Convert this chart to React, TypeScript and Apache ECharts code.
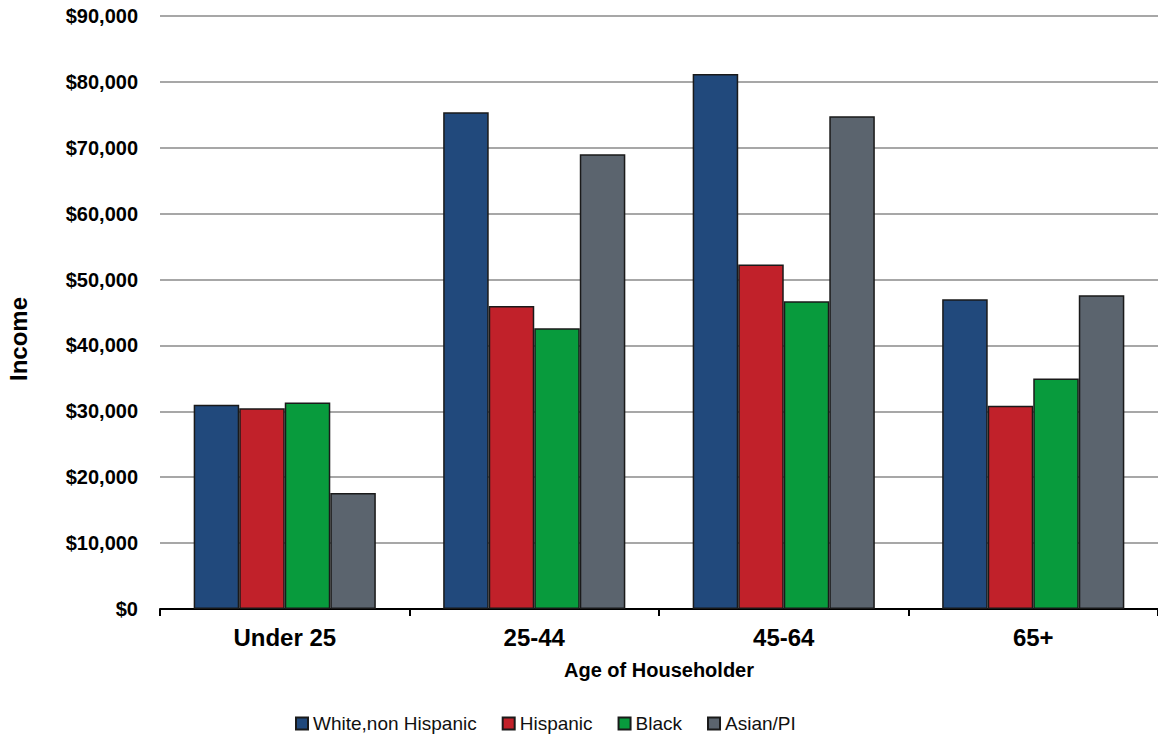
import React, { useEffect, useRef } from "react";
import * as echarts from "echarts";

const categories = ["Under 25", "25-44", "45-64", "65+"];
const whiteNonHispanic = [31000, 75400, 81200, 47000];
const hispanic = [30450, 46000, 52300, 30850];
const black = [31350, 42600, 46700, 35000];
const asianPI = [17600, 69000, 74800, 47600];
const seriesNames = ["White,non Hispanic", "Hispanic", "Black", "Asian/PI"];
const colors = ["#21497c", "#c1212a", "#089b3d", "#5b646e"];

export default function App() {
  const ref = useRef<HTMLDivElement>(null);
  useEffect(() => {
    if (!ref.current) return;
    const chart = echarts.init(ref.current, undefined, { renderer: "svg" });
    const datasets = [whiteNonHispanic, hispanic, black, asianPI];
    chart.setOption({
      animation: false,
      backgroundColor: "#ffffff",
      textStyle: { fontFamily: "Liberation Sans, Arial, sans-serif" },
      grid: { left: 160, right: 0, top: 16, bottom: 135, containLabel: false },
      legend: {
        left: 290,
        top: 709,
        itemWidth: 12,
        itemHeight: 12,
        itemGap: 25,
        icon: "rect",
        textStyle: { fontSize: 19, color: "#111", fontFamily: "Liberation Sans, Arial, sans-serif" },
        data: seriesNames,
      },
      xAxis: {
        type: "category",
        data: categories,
        name: "Age of Householder",
        nameLocation: "middle",
        nameGap: 51,
        nameTextStyle: { fontSize: 20, fontWeight: "bold", color: "#000", fontFamily: "Liberation Sans, Arial, sans-serif" },
        axisLine: { show: true, lineStyle: { color: "#000", width: 2 } },
        axisTick: { show: true, length: 7, lineStyle: { color: "#000", width: 2 } },
        axisLabel: { fontSize: 24, fontWeight: "bold", color: "#000", margin: 16 },
      },
      yAxis: {
        type: "value",
        min: 0,
        max: 90000,
        interval: 10000,
        axisLine: { show: false },
        axisTick: { show: false },
        axisLabel: {
          fontSize: 20,
          fontWeight: "bold",
          color: "#000",
          margin: 22,
          formatter: (v: number) => "$" + v.toLocaleString("en-US"),
        },
        splitLine: { show: true, lineStyle: { color: "#8a8a8a", width: 1.5 } },
      },
      graphic: [
        {
          type: "text",
          x: 18,
          y: 339,
          rotation: Math.PI / 2,
          style: {
            text: "Income",
            fontSize: 24,
            fontWeight: "bold",
            fill: "#000",
            fontFamily: "Liberation Sans, Arial, sans-serif",
            align: "center",
            verticalAlign: "middle",
          },
        },
      ],
      series: datasets.map((d, i) => ({
        type: "bar",
        name: seriesNames[i],
        data: d,
        barGap: "0%",
        barCategoryGap: "27%",
        itemStyle: { color: colors[i], borderColor: "#1a1a1a", borderWidth: 1.5 },
      })),
    });
    return () => chart.dispose();
  }, []);
  return (
    <div
      ref={ref}
      style={{ position: "fixed", left: 0, top: 0, width: 1158, height: 744, background: "#fff" }}
    />
  );
}
